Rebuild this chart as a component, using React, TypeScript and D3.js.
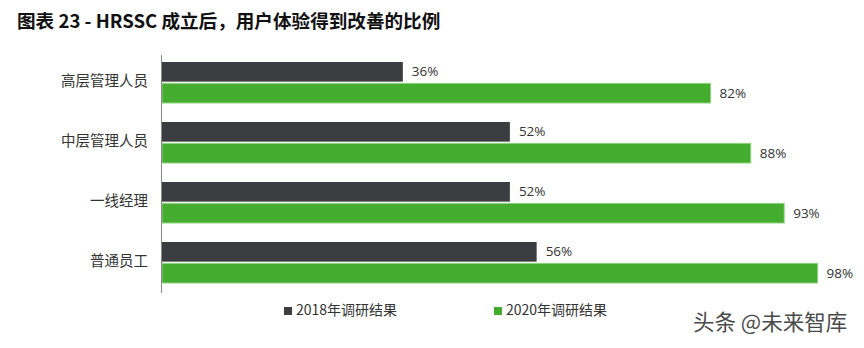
import React from "react";
import * as d3 from "d3";

const categories = ["高层管理人员", "中层管理人员", "一线经理", "普通员工"];
const values2018 = [36, 52, 52, 56];
const values2020 = [82, 88, 93, 98];
const seriesNames = ["2018年调研结果", "2020年调研结果"];
const seriesColors = ["#3b3d40", "#44ac2e"];

const W = 864;
const H = 348;
const FONT = "'Noto Sans CJK SC', 'Noto Sans', sans-serif";

export default function App() {
  const x = d3.scaleLinear().domain([0, 100]).range([162, 831]);
  const y = d3.scaleBand<string>().domain(categories).range([55, 295]).padding(0);
  const inner = d3.scaleBand<string>().domain(["a", "b"]).range([7, 48]).paddingInner(0.08);
  const series = [values2018, values2020];

  return (
    <svg width={W} height={H} style={{ position: "absolute", left: 0, top: 0, background: "#fff" }}>
      <text x={17} y={28} fontFamily={FONT} fontWeight={700} fontSize={18.6} fill="#111">
        图表 23 - HRSSC 成立后，用户体验得到改善的比例
      </text>
      {categories.map((c, i) => (
        <g key={c}>
          <text
            x={148}
            y={(y(c) as number) + 27}
            textAnchor="end"
            dominantBaseline="middle"
            fontFamily={FONT}
            fontSize={14.5}
            fill="#333"
          >
            {c}
          </text>
          {series.map((vals, s) => {
            const by = (y(c) as number) + (inner(s === 0 ? "a" : "b") as number);
            const bw = inner.bandwidth();
            return (
              <g key={s}>
                <rect
                  x={x(0)}
                  y={by}
                  width={x(vals[i]) - x(0)}
                  height={bw}
                  fill={seriesColors[s]}
                  stroke={s === 1 ? "#8fd47f" : "none"}
                  strokeWidth={s === 1 ? 1 : 0}
                />
                <text
                  x={x(vals[i]) + 9}
                  y={by + bw / 2 + 1}
                  dominantBaseline="middle"
                  fontFamily="'Open Sans', sans-serif"
                  fontSize={13.5}
                  fill="#333"
                >
                  {vals[i]}%
                </text>
              </g>
            );
          })}
        </g>
      ))}
      <line x1={161.5} x2={161.5} y1={55} y2={293} stroke="#888" strokeWidth={1} />
      {seriesNames.map((n, s) => {
        const lx = s === 0 ? 284 : 494;
        return (
          <g key={n}>
            <rect x={lx} y={307} width={8} height={8} fill={seriesColors[s]} />
            <text x={lx + 12} y={311} dominantBaseline="middle" fontFamily={FONT} fontSize={14} fill="#333">
              {n}
            </text>
          </g>
        );
      })}
      <text x={693} y={330} fontFamily={FONT} fontSize={21.5} fill="#4a4a4a">
        头条 @未来智库
      </text>
    </svg>
  );
}
